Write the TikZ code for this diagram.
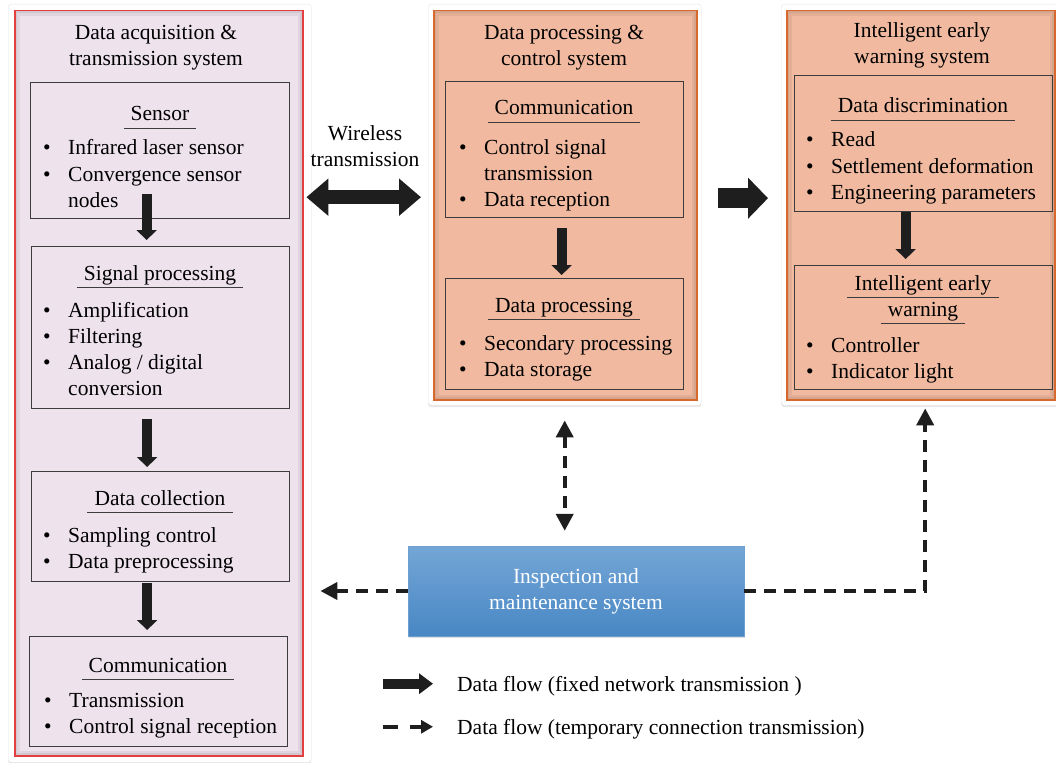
\documentclass[tikz,border=0pt]{standalone}
\usepackage{fontspec}
\setmainfont{Liberation Serif}
\usetikzlibrary{arrows.meta,shadows,positioning}

\definecolor{lilac}{HTML}{EEE2ED}
\definecolor{redline}{HTML}{E43F3F}
\definecolor{salmon}{HTML}{F1BAA0}
\definecolor{rust}{HTML}{D7692F}
\definecolor{boxline}{HTML}{3C3C3C}
\definecolor{skytop}{HTML}{74A6D6}
\definecolor{skybot}{HTML}{4887C4}
\definecolor{ink}{HTML}{1E1E1E}

% bullet list: one row per line, "\itm" starts a bullet
\newcommand{\itm}{\textbullet &}
\newcommand{\blist}[1]{\begin{tabular}[t]{@{}l@{\hspace{17.5pt}}l@{}}#1\end{tabular}}

\begin{document}
\begin{tikzpicture}[x=1pt,y=-1pt,font=\fontsize{21.5}{26}\selectfont]
\tikzstyle{frame} = [rectangle, draw=black!10, fill=white, rounded corners=3pt,
anchor=north west, inner sep=0pt,
drop shadow={shadow xshift=0pt, shadow yshift=-2pt, opacity=0.18}]
\tikzstyle{panel} = [rectangle, anchor=north west, inner sep=0pt, line width=1.5pt,
path picture={\draw[line width=10pt, black, opacity=0.06] (path picture bounding box.south west) rectangle (path picture bounding box.north east);
\draw[line width=5pt, black, opacity=0.06] (path picture bounding box.south west) rectangle (path picture bounding box.north east);}]
\tikzstyle{inbox} = [rectangle, draw=boxline, line width=1.3pt, anchor=north west, inner sep=0pt]
\tikzstyle{heading} = [anchor=base, inner xsep=7pt, inner ysep=0pt, text depth=0pt,
append after command={([yshift=-7pt]\tikzlastnode.south west) edge[draw=boxline, line width=1.2pt] ([yshift=-7pt]\tikzlastnode.south east)}]
\tikzstyle{bullets} = [anchor=base west, inner sep=0pt]
\tikzstyle{title} = [align=center, inner sep=0pt]
\tikzstyle{blockarrow} = [draw=ink, line width=10pt, -{Triangle[width=20pt,length=10pt]}]
\tikzstyle{dashline} = [draw=ink, line width=4pt, dash pattern=on 12pt off 8pt,
>={Triangle[width=17pt,length=17pt]}]

\useasboundingbox[fill=white] (0,0) rectangle (1056,762);

% left panel
\node[frame, minimum width=303pt, minimum height=758pt] (lframe) at (8,4) {};
\node[panel, fill=lilac, draw=redline, minimum width=288pt, minimum height=745pt] (lpanel) at (14,10) {};
\node[title] (ltitle) at (156,47.5) {Data acquisition \&\\transmission system};

\node[inbox, minimum width=259pt, minimum height=136pt] (sensor) at (30,82) {};
\node[heading] (sensorhd) at (160,121) {Sensor};
\node[bullets] (sensorls) at (43,155) {\blist{\itm Infrared laser sensor\\ \itm Convergence sensor\\ & nodes}};

\node[inbox, minimum width=258pt, minimum height=162pt] (sigproc) at (31,246) {};
\node[heading] (sigprochd) at (160,280) {Signal processing};
\node[bullets] (sigprocls) at (43,317) {\blist{\itm Amplification\\ \itm Filtering\\ \itm Analog / digital\\ & conversion}};

\node[inbox, minimum width=258pt, minimum height=110pt] (datacol) at (31,471) {};
\node[heading] (datacolhd) at (160,505) {Data collection};
\node[bullets] (datacolls) at (43,542) {\blist{\itm Sampling control\\ \itm Data preprocessing}};

\node[inbox, minimum width=258pt, minimum height=110pt] (lcomm) at (29,636) {};
\node[heading] (lcommhd) at (158,672) {Communication};
\node[bullets] (lcommls) at (44,707) {\blist{\itm Transmission\\ \itm Control signal reception}};

% middle panel
\node[frame, minimum width=273pt, minimum height=401pt] (mframe) at (428,4) {};
\node[panel, fill=salmon, draw=rust, minimum width=263pt, minimum height=389pt] (mpanel) at (433,10) {};
\node[title] (mtitle) at (564,47.5) {Data processing \&\\control system};

\node[inbox, minimum width=238pt, minimum height=136pt] (mcomm) at (445,81) {};
\node[heading] (mcommhd) at (564,115) {Communication};
\node[bullets] (mcommls) at (459,154) {\blist{\itm Control signal\\ & transmission\\ \itm Data reception}};

\node[inbox, minimum width=238pt, minimum height=111pt] (dproc) at (445,278) {};
\node[heading] (dprochd) at (564,312) {Data processing};
\node[bullets] (dprocls) at (459,350) {\blist{\itm Secondary processing\\ \itm Data storage}};

% right panel
\node[frame, minimum width=278pt, minimum height=401pt] (rframe) at (781,4) {};
\node[panel, fill=salmon, draw=rust, minimum width=268pt, minimum height=389pt] (rpanel) at (786,10) {};
\node[title] (rtitle) at (922,45.5) {Intelligent early\\warning system};

\node[inbox, minimum width=258pt, minimum height=136pt] (ddisc) at (794,75) {};
\node[heading] (ddischd) at (923,113) {Data discrimination};
\node[bullets] (ddiscls) at (806,147) {\blist{\itm Read\\ \itm Settlement deformation\\ \itm Engineering parameters}};

\node[inbox, minimum width=258pt, minimum height=124pt] (iwarn) at (794,265) {};
\node[heading] (iwarnhd) at (923,290) {Intelligent early};
\node[heading] (iwarnhdb) at (923,316) {warning};
\node[bullets] (iwarnls) at (806,352) {\blist{\itm Controller\\ \itm Indicator light}};

% inspection box
\node[rectangle, top color=skytop, bottom color=skybot, draw=skybot!80!white, text=white,
align=center, minimum width=336pt, minimum height=90pt,
drop shadow={shadow xshift=1pt, shadow yshift=-2pt, opacity=0.25}] (blue) at (576,591)
{Inspection and\\maintenance system};

\node[title] (wireless) at (365,146.5) {Wireless\\transmission};

% legend
\node[bullets] (legfixed) at (457,691) {Data flow (fixed network transmission )};
\node[bullets] (legtemp) at (457,734) {Data flow (temporary connection transmission)};

% solid flows
\draw[blockarrow, shorten <=-25pt, shorten >=6pt] ([xshift=-13.5pt]sensor.south) -- ([xshift=-13.5pt]sensor.south |- sigproc.north);
\draw[blockarrow, shorten <=10pt, shorten >=4pt] ([xshift=-13.5pt]sigproc.south) -- ([xshift=-13.5pt]sigproc.south |- datacol.north);
\draw[blockarrow, shorten <=1pt, shorten >=6pt] ([xshift=-13.5pt]datacol.south) -- ([xshift=-13.5pt]datacol.south |- lcomm.north);
\draw[blockarrow, shorten <=10pt, shorten >=3pt] ([xshift=-3pt]mcomm.south) -- ([xshift=-3pt]mcomm.south |- dproc.north);
\draw[blockarrow, shorten >=6pt] ([xshift=-18pt]ddisc.south) -- ([xshift=-18pt]ddisc.south |- iwarn.north);
\draw[draw=ink, line width=20pt, -{Triangle[width=40pt,length=20pt]}, shorten <=17pt, shorten >=13pt]
([yshift=6.5pt]mframe.east) -- ([yshift=6.5pt]rframe.west);
\draw[draw=ink, line width=14pt, {Triangle[width=36pt,length=22pt]}-{Triangle[width=36pt,length=22pt]},
shorten <=-5pt, shorten >=7pt] ([yshift=7.5pt]mframe.west -| lframe.east) -- ([yshift=7.5pt]mframe.west);

% temporary links
\draw[dashline, <->, shorten <=15pt, shorten >=15pt] (mframe.south) -- (mframe.south |- blue.north);
\draw[dashline, ->, shorten >=9pt] (blue.west) -- (blue.west -| lframe.east);
\draw[dashline, ->, shorten >=3pt] (blue.east) -| ([xshift=5pt]rframe.south);

% legend arrows
\draw[draw=ink, line width=10pt, -{Triangle[width=20pt,length=14pt]}] ([xshift=-74pt,yshift=2pt]legfixed.west) -- ([xshift=-24pt,yshift=2pt]legfixed.west);
\draw[draw=ink, line width=4.5pt, dash pattern=on 15pt off 12pt, -{Triangle[width=13pt,length=12pt]}]
([xshift=-74pt,yshift=2pt]legtemp.west) -- ([xshift=-24pt,yshift=2pt]legtemp.west);
\end{tikzpicture}
\end{document}
